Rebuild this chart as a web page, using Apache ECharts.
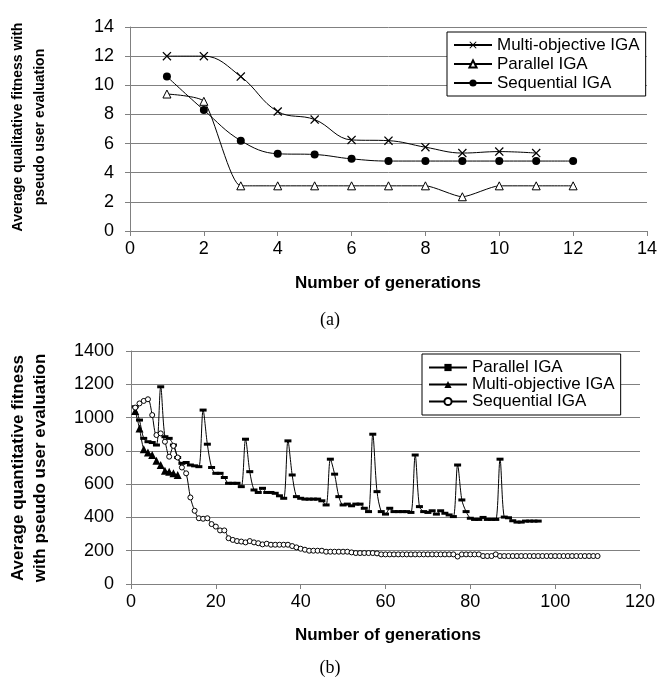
<!DOCTYPE html>
<html>
<head>
<meta charset="utf-8">
<script src="https://cdn.jsdelivr.net/npm/echarts@6/dist/echarts.min.js"></script>
<style>
  body { margin: 0; background: #fff; }
  #top { position: absolute; left: 0; top: 0; width: 660px; height: 340px; }
  #bottom { position: absolute; left: 0; top: 340px; width: 660px; height: 343px; }
</style>
</head>
<body>
<div id="top"></div>
<div id="bottom"></div>
<script>
// (a) qualitative fitness, generations 1..12
const gensA = [1, 2, 3, 4, 5, 6, 7, 8, 9, 10, 11, 12];
const multiA = [12, 12, 10.6, 8.2, 7.65, 6.25, 6.2, 5.75, 5.35, 5.45, 5.35];
const parallelA = [9.4, 8.9, 3.1, 3.1, 3.1, 3.1, 3.1, 3.1, 2.35, 3.1, 3.1, 3.1];
const sequentialA = [10.6, 8.3, 6.2, 5.3, 5.25, 4.95, 4.8, 4.8, 4.8, 4.8, 4.8, 4.8];
const ticksA = { xMax: 14, xStep: 2, yMax: 14, yStep: 2 };

// (b) quantitative fitness
const parallelB = [
  1065, 985, 875, 855, 850, 835, 1185, 885, 875, 835,
  760, 725, 730, 715, 710, 705, 1045, 840, 700, 665,
  665, 640, 605, 605, 605, 585, 870, 675, 565, 550,
  575, 550, 550, 545, 530, 515, 860, 655, 525, 515,
  510, 510, 510, 510, 500, 475, 750, 660, 525, 475,
  480, 470, 480, 480, 455, 435, 900, 555, 435, 420,
  455, 435, 435, 435, 435, 430, 775, 465, 435, 430,
  440, 420, 440, 425, 415, 405, 715, 505, 435, 395,
  388, 388, 400, 388, 388, 388, 750, 402, 398, 380,
  372, 372, 378, 378, 378, 378
];
const multiB = [1040, 935, 810, 790, 775, 740, 715, 680, 675, 665, 655];
const sequentialB = [
  1060, 1085, 1100, 1110, 1015, 895, 905, 855, 765, 830,
  760, 700, 665, 520, 440, 395, 392, 395, 360, 345,
  322, 322, 275, 265, 258, 255, 250, 258, 250, 245,
  238, 242, 236, 236, 236, 236, 236, 228, 220, 212,
  206, 200, 200, 200, 200, 194, 194, 194, 194, 194,
  194, 190, 186, 186, 186, 186, 186, 184, 178, 178,
  178, 178, 178, 178, 178, 178, 178, 178, 178, 178,
  178, 178, 178, 178, 178, 178, 165, 178, 178, 178,
  178, 178, 168, 168, 168, 178, 168, 168, 168, 168,
  168, 168, 168, 168, 168, 168, 168, 168, 168, 168,
  168, 168, 168, 168, 168, 168, 168, 168, 168, 168
];
const ticksB = { xMax: 120, xStep: 20, yMax: 1400, yStep: 200 };

const font = 'Liberation Sans, Arial, sans-serif';
const axisGray = '#808080';
const xMark = 'path://M1,0L5,4L9,0L10,1L6,5L10,9L9,10L5,6L1,10L0,9L4,5L0,1Z';

function pairs(values) {
  return values.map((v, i) => [i + 1, v]);
}

function axes(ticks, yMargin) {
  const common = {
    type: 'value',
    min: 0,
    axisLine: { show: true, lineStyle: { color: axisGray, width: 1 } },
    axisTick: { show: true, inside: false, length: 5, lineStyle: { color: axisGray } },
    axisLabel: { color: '#000', fontFamily: font, fontSize: 18, formatter: v => String(v) }
  };
  return {
    xAxis: Object.assign({}, common, {
      max: ticks.xMax, interval: ticks.xStep,
      splitLine: { show: false },
      axisLabel: Object.assign({}, common.axisLabel, { margin: 9 })
    }),
    yAxis: Object.assign({}, common, {
      max: ticks.yMax, interval: ticks.yStep,
      splitLine: { show: true, lineStyle: { color: axisGray, width: 1 } },
      axisLabel: Object.assign({}, common.axisLabel, { margin: yMargin })
    })
  };
}

function line(name, data, symbol, size, fill, smooth) {
  return {
    name: name,
    type: 'line',
    data: data,
    smooth: smooth,
    symbol: symbol,
    symbolSize: size,
    showAllSymbol: true,
    animation: false,
    lineStyle: { color: '#000', width: 1 },
    itemStyle: { color: fill, borderColor: '#000', borderWidth: fill === '#fff' ? 1 : 0 }
  };
}

function titles(lines, ySize, xTitle, xTitleY, tag, tagY, midY) {
  const g = lines.map((t, i) => ({
    type: 'text',
    x: 18 + i * 22,
    y: midY,
    rotation: Math.PI / 2,
    style: {
      text: t, fill: '#000', font: 'bold ' + ySize + 'px ' + font,
      textAlign: 'center', textVerticalAlign: 'middle'
    }
  }));
  g.push({
    type: 'text', x: 388, y: xTitleY,
    style: { text: xTitle, fill: '#000', font: 'bold 17px ' + font, textAlign: 'center', textVerticalAlign: 'middle' }
  });
  g.push({
    type: 'text', x: 330, y: tagY,
    style: { text: tag, fill: '#000', font: '18px Liberation Serif, Times New Roman, serif', textAlign: 'center', textVerticalAlign: 'middle' }
  });
  return g;
}

function legend(left, top, lineHeight, gap, padding) {
  return {
    orient: 'vertical',
    left: left,
    top: top,
    itemWidth: 38,
    itemHeight: 9,
    itemGap: gap,
    padding: padding,
    backgroundColor: '#fff',
    borderColor: '#000',
    borderWidth: 1,
    selectedMode: false,
    textStyle: { color: '#000', fontFamily: font, fontSize: 17, lineHeight: lineHeight }
  };
}

const topChart = echarts.init(document.getElementById('top'));
const axA = axes(ticksA, 16);
topChart.setOption({
  animation: false,
  grid: { left: 130, top: 27, width: 518, height: 204 },
  xAxis: axA.xAxis,
  yAxis: axA.yAxis,
  legend: legend(447, 32, 18, 1, [4, 6]),
  series: [
    line('Multi-objective IGA', pairs(multiA), xMark, 9, '#000', 0.4),
    line('Parallel IGA', pairs(parallelA), 'triangle', 8, '#fff', 0.2),
    line('Sequential IGA', pairs(sequentialA), 'circle', 8, '#000', 0.4)
  ],
  graphic: titles(['Average qualitative fitness with', 'pseudo user evaluation'], 14,
    'Number of generations', 283, '(a)', 320, 127)
});

const bottomChart = echarts.init(document.getElementById('bottom'));
const axB = axes(ticksB, 17);
bottomChart.setOption({
  animation: false,
  grid: { left: 131, top: 11, width: 509, height: 233 },
  xAxis: axB.xAxis,
  yAxis: axB.yAxis,
  legend: legend(422, 14, 16, 0, [5, 6]),
  series: [
    line('Parallel IGA', pairs(parallelB), 'rect', [7, 3], '#000', 0.3),
    line('Multi-objective IGA', pairs(multiB), 'triangle', 8, '#000', 0.3),
    line('Sequential IGA', pairs(sequentialB), 'circle', 5, '#fff', 0.3)
  ],
  graphic: titles(['Average quantitative fitness', 'with pseudo user evaluation'], 17,
    'Number of generations', 295, '(b)', 328, 128)
});
</script>
</body>
</html>
